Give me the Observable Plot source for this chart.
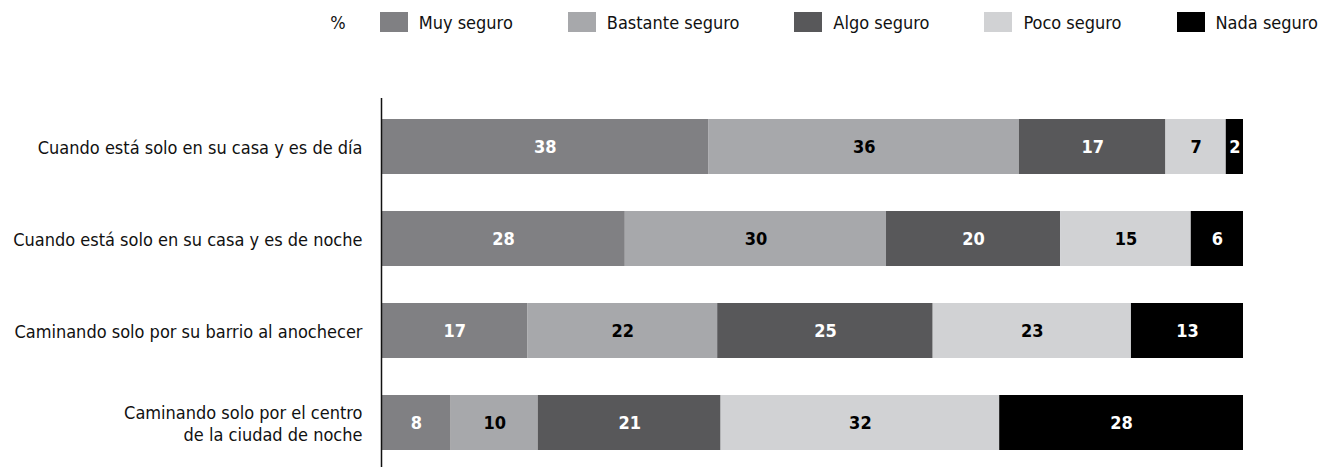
<!DOCTYPE html>
<html>
<head>
<meta charset="utf-8">
<script src="https://cdn.jsdelivr.net/npm/d3@7"></script>
<script src="https://cdn.jsdelivr.net/npm/@observablehq/plot@0.6"></script>
<style>
  html, body { margin: 0; padding: 0; background: #fff; overflow: hidden; }
  body { width: 1320px; height: 467px; font-family: "Liberation Sans Narrow", "DejaVu Sans Condensed", "Roboto Condensed", sans-serif; }
  #legend { height: 40px; display: flex; justify-content: flex-end; align-items: center; padding-right: 2px; font-size: 18px; color: #111; box-sizing: border-box; padding-top: 4px; }
  #legend .pct { margin-right: 34px; }
  #legend .item { display: flex; align-items: center; margin-left: 55px; }
  #legend .item:first-of-type { margin-left: 0; }
  #legend .sw { width: 28px; height: 20px; margin-right: 11px; }
  #chart svg { display: block; }
</style>
</head>
<body>
<div id="legend"></div>
<div id="chart"></div>
<script>
const categories = [
  "Cuando está solo en su casa y es de día",
  "Cuando está solo en su casa y es de noche",
  "Caminando solo por su barrio al anochecer",
  "Caminando solo por el centro\nde la ciudad de noche"
];
const series = ["Muy seguro", "Bastante seguro", "Algo seguro", "Poco seguro", "Nada seguro"];
const colors = ["#808083", "#a7a8ab", "#58585a", "#d1d2d4", "#000000"];
const labelColors = ["white", "black", "white", "black", "white"];
const muySeguro = [38, 28, 17, 8];
const bastanteSeguro = [36, 30, 22, 10];
const algoSeguro = [17, 20, 25, 21];
const pocoSeguro = [7, 15, 23, 32];
const nadaSeguro = [2, 6, 13, 28];
const unit = "%";

const valuesBySeries = [muySeguro, bastanteSeguro, algoSeguro, pocoSeguro, nadaSeguro];
const data = [];
categories.forEach((c, i) => {
  series.forEach((s, j) => {
    data.push({category: c, series: s, value: valuesBySeries[j][i], labelColor: labelColors[j]});
  });
});

// Legend
const legend = document.getElementById("legend");
const pct = document.createElement("span");
pct.className = "pct";
pct.textContent = unit;
legend.appendChild(pct);
series.forEach((s, j) => {
  const item = document.createElement("div");
  item.className = "item";
  const sw = document.createElement("span");
  sw.className = "sw";
  sw.style.background = colors[j];
  const t = document.createElement("span");
  t.textContent = s;
  item.appendChild(sw);
  item.appendChild(t);
  legend.appendChild(item);
});

const stackOpts = {x: "value", y: "category", z: "series", offset: "normalize", order: series};

const chart = Plot.plot({
  width: 1320,
  height: 431,
  marginTop: 58,
  marginBottom: 0,
  marginLeft: 381,
  marginRight: 77,
  style: {fontFamily: '"Liberation Sans Narrow", "DejaVu Sans Condensed", "Roboto Condensed", sans-serif', fontSize: "18px", color: "#111"},
  x: {axis: null},
  y: {domain: categories, paddingInner: 0.4, paddingOuter: 0.21, label: null},
  color: {domain: series, range: colors},
  marks: [
    Plot.barX(data, Plot.stackX({...stackOpts, fill: "series"})),
    Plot.text(data, Plot.stackX({...stackOpts, text: d => d.labelColor === "white" ? String(d.value) : null, fill: "white", fontWeight: "bold", fontSize: 18})),
    Plot.text(data, Plot.stackX({...stackOpts, text: d => d.labelColor === "black" ? String(d.value) : null, fill: "black", fontWeight: "bold", fontSize: 18})),
    Plot.axisY({tickSize: 0, tickPadding: 19, fontSize: 18, lineHeight: 1.25, label: null}),
    Plot.ruleX([0], {stroke: "#111", strokeWidth: 1.5})
  ]
});
document.getElementById("chart").appendChild(chart);
</script>
</body>
</html>
